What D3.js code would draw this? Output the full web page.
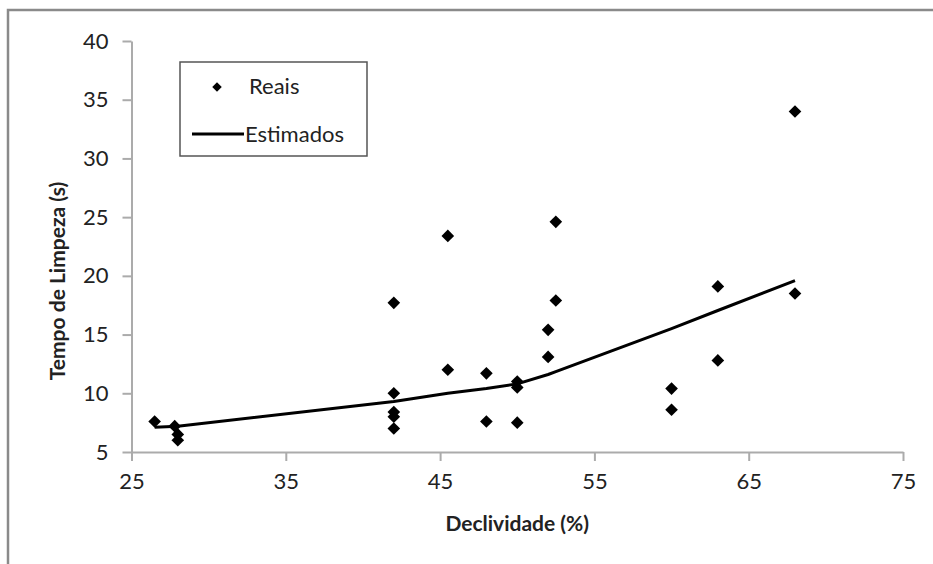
<!DOCTYPE html>
<html><head><meta charset="utf-8">
<script src="https://cdn.jsdelivr.net/npm/d3@7/dist/d3.min.js"></script>
<style>body{margin:0;background:#fff;}svg{display:block;font-family:Lato,"Open Sans",sans-serif;}</style>
</head><body>
<script>
// Data
const realX = [26.5, 27.8, 28, 28, 42, 42, 42, 42, 42, 45.5, 45.5, 48, 48, 50, 50, 50, 52, 52, 52.5, 52.5, 60, 60, 63, 63, 68, 68];
const realY = [7.6, 7.2, 6.5, 6.0, 17.7, 10.0, 8.4, 8.0, 7.0, 23.4, 12.0, 11.7, 7.6, 11.0, 10.5, 7.5, 15.4, 13.1, 24.6, 17.9, 10.4, 8.6, 19.1, 12.8, 34.0, 18.5];
const estX = [26.5, 28, 42, 45.5, 48, 50, 52, 52.5, 60, 63, 68];
const estY = [7.1, 7.2, 9.3, 10.0, 10.4, 10.8, 11.6, 11.85, 15.5, 17.05, 19.6];
const xTicks = [25, 35, 45, 55, 65, 75];
const yTicks = [5, 10, 15, 20, 25, 30, 35, 40];
const seriesNames = ["Reais", "Estimados"];
const xTitle = "Declividade (%)";
const yTitle = "Tempo de Limpeza (s)";

const W = 933, H = 564;
const svg = d3.select("body").append("svg").attr("width", W).attr("height", H);

// outer chart border
svg.append("rect").attr("x", 8).attr("y", 10).attr("width", W + 20).attr("height", H + 20)
  .attr("fill", "none").attr("stroke", "#8a8a8a").attr("stroke-width", 2.5);

const x = d3.scaleLinear().domain([25, 75]).range([131.5, 903]);
const y = d3.scaleLinear().domain([5, 40]).range([452, 41]);
const axisColor = "#ababab";

const xAxis = svg.append("g").attr("transform", `translate(0,${y(5)})`)
  .call(d3.axisBottom(x).tickValues(xTicks).tickSize(9).tickPadding(12).tickSizeOuter(0));
const yAxis = svg.append("g").attr("transform", `translate(${x(25)},0)`)
  .call(d3.axisLeft(y).tickValues(yTicks).tickSize(9).tickPadding(14).tickSizeOuter(0));
[xAxis, yAxis].forEach(g => {
  g.select(".domain").attr("stroke", axisColor).attr("stroke-width", 2);
  g.selectAll(".tick line").attr("stroke", axisColor).attr("stroke-width", 2);
  g.selectAll(".tick text").attr("fill", "#222").attr("font-size", 22).attr("font-family", "Lato, sans-serif");
});

// estimated line
const line = d3.line().x((d, i) => x(estX[i])).y((d, i) => y(estY[i]));
svg.append("path").datum(estY).attr("d", line).attr("fill", "none")
  .attr("stroke", "#000").attr("stroke-width", 3).attr("stroke-linejoin", "round");

// real points (diamonds)
const diamond = d3.symbol().type(d3.symbolSquare).size(80);
svg.append("g").selectAll("path").data(realY).join("path")
  .attr("d", diamond)
  .attr("transform", (d, i) => `translate(${x(realX[i])},${y(d)}) rotate(45)`)
  .attr("fill", "#000");

// axis titles
svg.append("text").attr("x", (x(25) + x(75)) / 2).attr("y", 531).attr("text-anchor", "middle")
  .attr("font-weight", "bold").attr("font-size", 21).attr("fill", "#222").text(xTitle);
svg.append("text").attr("transform", `translate(65,281) rotate(-90)`)
  .attr("text-anchor", "middle").attr("font-weight", "bold").attr("font-size", 21).attr("fill", "#222").text(yTitle);

// legend
const lg = svg.append("g");
lg.append("rect").attr("x", 180).attr("y", 62).attr("width", 187).attr("height", 94)
  .attr("fill", "#fff").attr("stroke", "#555").attr("stroke-width", 1.5);
lg.append("path").attr("d", d3.symbol().type(d3.symbolSquare).size(45))
  .attr("transform", "translate(217,87) rotate(45)").attr("fill", "#000");
lg.append("text").attr("x", 249).attr("y", 94).attr("font-size", 22).attr("fill", "#222").text(seriesNames[0]);
lg.append("line").attr("x1", 192).attr("x2", 244).attr("y1", 134).attr("y2", 134)
  .attr("stroke", "#000").attr("stroke-width", 3);
lg.append("text").attr("x", 245).attr("y", 142).attr("font-size", 22).attr("fill", "#222").text(seriesNames[1]);
</script>
</body></html>
